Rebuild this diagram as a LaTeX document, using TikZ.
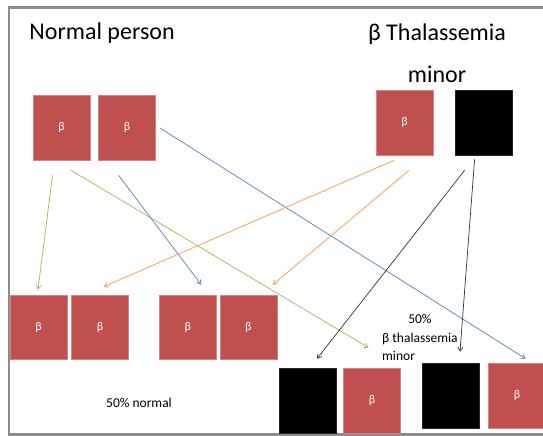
\documentclass[tikz,border=0pt]{standalone}
\usepackage{fontspec}
\setmainfont{Carlito}
\usetikzlibrary{positioning,arrows.meta}
\definecolor{allele}{RGB}{192,80,77}
\definecolor{pgreen}{RGB}{155,187,89}
\definecolor{pblue}{RGB}{79,129,189}
\definecolor{porange}{RGB}{247,150,70}
\definecolor{framegray}{RGB}{140,140,140}

\begin{document}
\begin{tikzpicture}[
    x=1pt, y=-1pt,
    gene/.style={draw=allele!70!white, fill=allele, line width=0.6pt, minimum width=57pt, minimum height=65pt, inner sep=0pt, text=white, font=\fontsize{12}{14}\selectfont},
    mutant/.style={gene, draw=black!85, fill=black},
    title/.style={align=center, font=\fontsize{24}{42}\selectfont},
    note/.style={font=\fontsize{13.5}{18.5}\selectfont},
    arrow/.style={-{Straight Barb[length=4pt,width=5pt]}, line width=0.7pt},
    node distance=3pt
]
    \useasboundingbox (0,0) rectangle (543,436);

    % Slide frame
    \draw[framegray, line width=2.2pt] (545,7.5) -- (8.7,7.5) -- (8.7,434.5) -- (545,434.5);

    % Titles
    \node[title] (normal) at (102,33) {Normal person};
    \node[title] (minor) at (437,53) {β Thalassemia\\minor};

    % Parents
    \node[gene] (nb1) at (61.5,127.5) {β};
    \node[gene, right=8pt of nb1] (nb2) {β};
    \node[gene] (tb1) at (404.5,122.5) {β};
    \node[mutant, right=22pt of tb1] (tb2) {};

    % Children: normal
    \node[gene, minimum height=64pt] (c1) at (38.5,327) {β};
    \node[gene, minimum height=64pt, right=4pt of c1] (c2) {β};
    \node[gene, minimum height=64pt, right=30pt of c2] (c3) {β};
    \node[gene, minimum height=64pt, right=of c3] (c4) {β};

    % Children: carriers
    \node[mutant] (d1) at (307.5,400.5) {};
    \node[gene, right=7pt of d1] (d2) {β};
    \node[mutant] (d3) at (450.5,395.5) {};
    \node[gene, right=9pt of d3] (d4) {β};

    % Labels
    \node[note] (half1) at (139,403) {50\% normal};
    \node[note, anchor=west, inner sep=0pt] (half2) at (382,338.5)
        {\begin{tabular}{@{}l@{}}\multicolumn{1}{c}{50\%}\\β thalassemia\\minor\end{tabular}};

    % Arrows
    \draw[arrow, pgreen] ([xshift=-9pt,yshift=-15pt]nb1.south) -- ([xshift=-0.5pt,yshift=5pt]c1.north);
    \draw[arrow, pgreen] ([xshift=9.5pt,yshift=-10pt]nb1.south) -- ([xshift=-3.5pt,yshift=20pt]d2.north);
    \draw[arrow, pblue] ([xshift=-8.5pt,yshift=-15pt]nb2.south) -- ([xshift=13.5pt,yshift=10pt]c3.north);
    \draw[arrow, pblue] ([xshift=4pt,yshift=-0.5pt]nb2.east) -- ([xshift=8.5pt,yshift=4pt]d4.north);
    \draw[arrow, porange] ([xshift=-10.5pt,yshift=-5pt]tb1.south) -- ([xshift=3.5pt,yshift=8pt]c2.north);
    \draw[arrow, porange] ([xshift=4.5pt,yshift=-15pt]tb1.south) -- ([xshift=24.5pt,yshift=10pt]c4.north);
    \draw[arrow, black!80] ([xshift=-19.5pt,yshift=-15pt]tb2.south) -- ([xshift=9.5pt,yshift=9pt]d1.north);
    \draw[arrow, black!80] ([xshift=-9.5pt,yshift=-4pt]tb2.south) -- ([xshift=9.5pt,yshift=11pt]d3.north);
\end{tikzpicture}
\end{document}
